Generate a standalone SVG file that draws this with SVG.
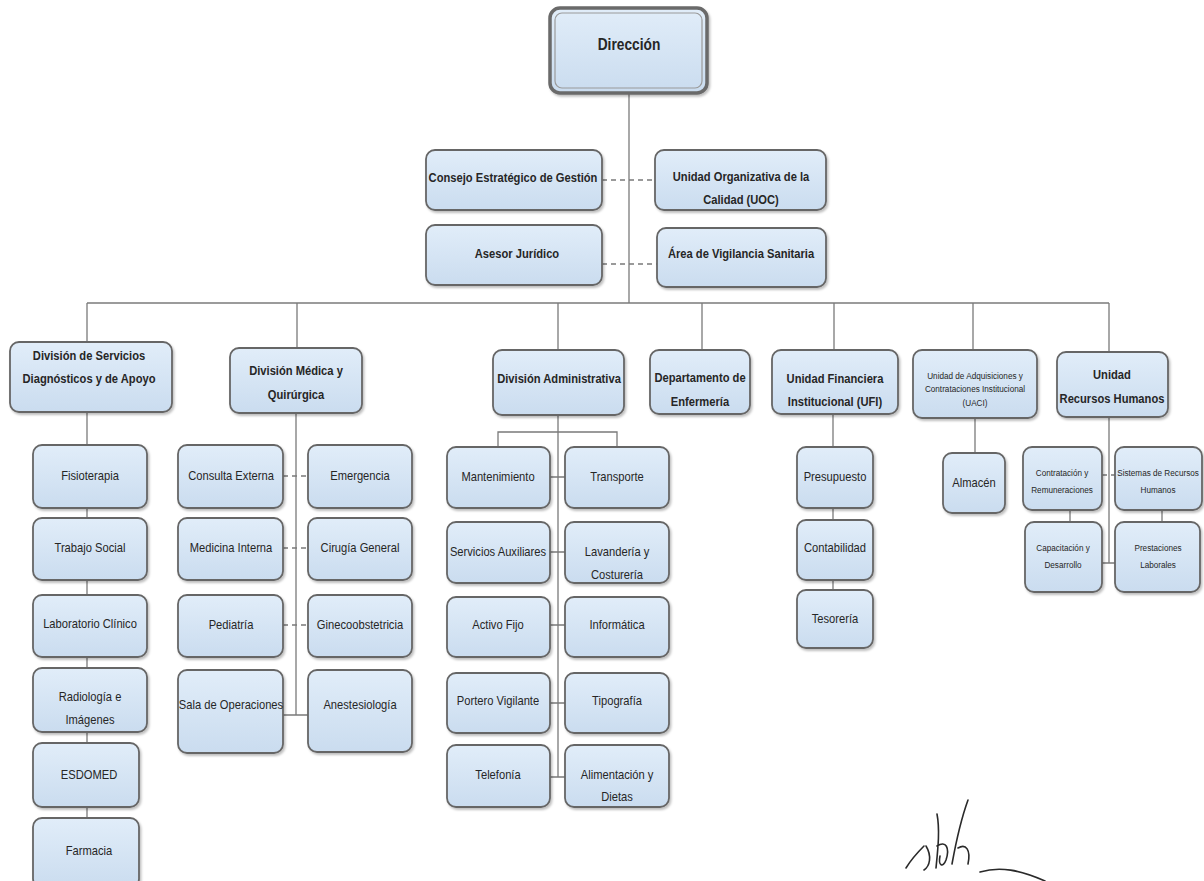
<svg xmlns="http://www.w3.org/2000/svg" width="1204" height="881" viewBox="0 0 1204 881">
<defs>
<linearGradient id="bg" x1="0" y1="0" x2="0" y2="1">
<stop offset="0" stop-color="#e1edf9"/>
<stop offset="1" stop-color="#cadcef"/>
</linearGradient>
<filter id="sh" x="-10%" y="-10%" width="130%" height="140%">
<feDropShadow dx="1.5" dy="2" stdDeviation="1.2" flood-color="#000" flood-opacity="0.25"/>
</filter>
</defs>
<style>
.b{fill:url(#bg);stroke:#666;stroke-width:1.8;filter:url(#sh)}
.t{font-family:"Liberation Sans Narrow","Liberation Sans",sans-serif;font-size:13px;fill:#262626;text-anchor:middle;transform-box:fill-box;transform-origin:center;transform:scaleX(0.86)}
.h{font-weight:bold}
.s{font-size:9.5px}
.xs{font-size:9.5px}
.c{fill:none;stroke:#7a7a7a;stroke-width:1.3}
.d{fill:none;stroke:#7a7a7a;stroke-width:1.3;stroke-dasharray:5 4}
.sig{fill:none;stroke:#2a2a2a;stroke-width:1.6;stroke-linecap:round;stroke-linejoin:round}
</style>
<rect width="1204" height="881" fill="#fff"/>
<g id="connectors">
<path class="c" d="M629,93 V303"/>
<path class="c" d="M87,303 H1109"/>
<path class="c" d="M87,303 V342 M297,303 V348 M558,303 V350 M702,303 V350 M834,303 V350 M973,303 V350 M1109,303 V352"/>
<path class="d" d="M602,180 H655"/>
<path class="d" d="M602,264 H657"/>
<path class="c" d="M87,412 V820"/>
<path class="c" d="M296,413 V715 M283,715 H308"/>
<path class="d" d="M283,476 H308 M283,548 H308 M283,625 H308"/>
<path class="c" d="M558,415 V777 M498,447 V432 H617 V447"/>
<path class="c" d="M550,477 H565 M550,552 H565 M550,625 H565 M550,703 H565 M550,777 H565"/>
<path class="c" d="M833,414 V590"/>
<path class="c" d="M975,418 V453"/>
<path class="c" d="M1109,417 V563 M1102,563 H1115 M1070,510 V522 M1162,510 V522"/>
<path class="d" d="M1102,475 H1115"/>
</g>
<g id="n-direccion">
<rect x="550" y="8" width="157" height="85" rx="10" fill="url(#bg)" stroke="#6a6a6a" stroke-width="3.5" filter="url(#sh)"/>
<rect x="555" y="13" width="147" height="75" rx="7" fill="none" stroke="#9a9a9a" stroke-width="1.2"/>
<text class="t h" x="629" y="50" style="font-size:16px">Dirección</text>
</g>
<g id="n-consejo"><rect class="b" x="426" y="150" width="176" height="60" rx="9"/><text class="t h" x="513" y="182">Consejo Estratégico de Gestión</text></g>
<g id="n-uoc"><rect class="b" x="655" y="150" width="171" height="60" rx="9"/><text class="t h" x="741" y="181">Unidad Organizativa de la</text><text class="t h" x="741" y="204">Calidad (UOC)</text></g>
<g id="n-asesor"><rect class="b" x="426" y="225" width="176" height="60" rx="9"/><text class="t h" x="517" y="258">Asesor Jurídico</text></g>
<g id="n-vigilancia"><rect class="b" x="657" y="228" width="169" height="59" rx="9"/><text class="t h" x="741" y="258">Área de Vigilancia Sanitaria</text></g>

<g id="n-div-servicios"><rect class="b" x="10" y="342" width="162" height="70" rx="9"/><text class="t h" x="89" y="360">División de Servicios</text><text class="t h" x="89" y="383">Diagnósticos y de Apoyo</text></g>
<g id="n-div-medica"><rect class="b" x="230" y="348" width="132" height="65" rx="9"/><text class="t h" x="296" y="375">División Médica y</text><text class="t h" x="296" y="399">Quirúrgica</text></g>
<g id="n-div-admin"><rect class="b" x="493" y="350" width="131" height="65" rx="9"/><text class="t h" x="559" y="383">División Administrativa</text></g>
<g id="n-enfermeria"><rect class="b" x="650" y="350" width="100" height="64" rx="9"/><text class="t h" x="700" y="382">Departamento de</text><text class="t h" x="700" y="406">Enfermería</text></g>
<g id="n-ufi"><rect class="b" x="772" y="350" width="126" height="64" rx="9"/><text class="t h" x="835" y="383">Unidad Financiera</text><text class="t h" x="835" y="406">Institucional (UFI)</text></g>
<g id="n-uaci"><rect class="b" x="913" y="350" width="124" height="68" rx="9"/><text class="t xs" x="975" y="379">Unidad de Adquisiciones y</text><text class="t xs" x="975" y="392">Contrataciones Institucional</text><text class="t xs" x="975" y="406">(UACI)</text></g>
<g id="n-rrhh"><rect class="b" x="1057" y="352" width="111" height="65" rx="9"/><text class="t h" x="1112" y="379">Unidad</text><text class="t h" x="1112" y="403">Recursos Humanos</text></g>

<g id="n-fisioterapia"><rect class="b" x="33" y="445" width="114" height="63" rx="9"/><text class="t" x="90" y="480">Fisioterapia</text></g>
<g id="n-trabajo-social"><rect class="b" x="33" y="518" width="114" height="62" rx="9"/><text class="t" x="90" y="552">Trabajo Social</text></g>
<g id="n-laboratorio"><rect class="b" x="33" y="595" width="114" height="62" rx="9"/><text class="t" x="90" y="628">Laboratorio Clínico</text></g>
<g id="n-radiologia"><rect class="b" x="33" y="668" width="114" height="64" rx="9"/><text class="t" x="90" y="701">Radiología e</text><text class="t" x="90" y="724">Imágenes</text></g>
<g id="n-esdomed"><rect class="b" x="33" y="743" width="106" height="64" rx="9"/><text class="t" x="89" y="779">ESDOMED</text></g>
<g id="n-farmacia"><rect class="b" x="33" y="818" width="106" height="70" rx="9"/><text class="t" x="89" y="855">Farmacia</text></g>

<g id="n-consulta"><rect class="b" x="178" y="445" width="105" height="63" rx="9"/><text class="t" x="231" y="480">Consulta Externa</text></g>
<g id="n-emergencia"><rect class="b" x="308" y="445" width="104" height="63" rx="9"/><text class="t" x="360" y="480">Emergencia</text></g>
<g id="n-medicina"><rect class="b" x="178" y="518" width="105" height="62" rx="9"/><text class="t" x="231" y="552">Medicina Interna</text></g>
<g id="n-cirugia"><rect class="b" x="308" y="518" width="104" height="62" rx="9"/><text class="t" x="360" y="552">Cirugía General</text></g>
<g id="n-pediatria"><rect class="b" x="178" y="595" width="105" height="62" rx="9"/><text class="t" x="231" y="629">Pediatría</text></g>
<g id="n-gineco"><rect class="b" x="308" y="595" width="104" height="62" rx="9"/><text class="t" x="360" y="629">Ginecoobstetricia</text></g>
<g id="n-sala"><rect class="b" x="178" y="670" width="105" height="83" rx="9"/><text class="t" x="231" y="709">Sala de Operaciones</text></g>
<g id="n-anestesiologia"><rect class="b" x="308" y="670" width="104" height="82" rx="9"/><text class="t" x="360" y="709">Anestesiología</text></g>

<g id="n-mantenimiento"><rect class="b" x="447" y="447" width="103" height="61" rx="9"/><text class="t" x="498" y="481">Mantenimiento</text></g>
<g id="n-transporte"><rect class="b" x="565" y="447" width="104" height="61" rx="9"/><text class="t" x="617" y="481">Transporte</text></g>
<g id="n-servicios-aux"><rect class="b" x="447" y="522" width="103" height="61" rx="9"/><text class="t" x="498" y="556">Servicios Auxiliares</text></g>
<g id="n-lavanderia"><rect class="b" x="565" y="522" width="104" height="61" rx="9"/><text class="t" x="617" y="556">Lavandería y</text><text class="t" x="617" y="579">Costurería</text></g>
<g id="n-activo"><rect class="b" x="447" y="597" width="103" height="60" rx="9"/><text class="t" x="498" y="629">Activo Fijo</text></g>
<g id="n-informatica"><rect class="b" x="565" y="597" width="104" height="60" rx="9"/><text class="t" x="617" y="629">Informática</text></g>
<g id="n-portero"><rect class="b" x="447" y="673" width="103" height="60" rx="9"/><text class="t" x="498" y="705">Portero Vigilante</text></g>
<g id="n-tipografia"><rect class="b" x="565" y="673" width="104" height="60" rx="9"/><text class="t" x="617" y="705">Tipografía</text></g>
<g id="n-telefonia"><rect class="b" x="447" y="745" width="103" height="62" rx="9"/><text class="t" x="498" y="779">Telefonía</text></g>
<g id="n-alimentacion"><rect class="b" x="565" y="745" width="104" height="62" rx="9"/><text class="t" x="617" y="779">Alimentación y</text><text class="t" x="617" y="801">Dietas</text></g>

<g id="n-presupuesto"><rect class="b" x="797" y="447" width="76" height="61" rx="9"/><text class="t" x="835" y="481">Presupuesto</text></g>
<g id="n-contabilidad"><rect class="b" x="797" y="520" width="76" height="60" rx="9"/><text class="t" x="835" y="552">Contabilidad</text></g>
<g id="n-tesoreria"><rect class="b" x="797" y="590" width="76" height="58" rx="9"/><text class="t" x="835" y="623">Tesorería</text></g>

<g id="n-almacen"><rect class="b" x="943" y="453" width="62" height="60" rx="9"/><text class="t" x="974" y="487">Almacén</text></g>

<g id="n-contratacion"><rect class="b" x="1023" y="447" width="79" height="63" rx="9"/><text class="t s" x="1062" y="476">Contratación y</text><text class="t s" x="1062" y="493">Remuneraciones</text></g>
<g id="n-sistemas"><rect class="b" x="1115" y="447" width="87" height="63" rx="9"/><text class="t s" x="1158" y="476">Sistemas de Recursos</text><text class="t s" x="1158" y="493">Humanos</text></g>
<g id="n-capacitacion"><rect class="b" x="1025" y="522" width="77" height="70" rx="9"/><text class="t s" x="1063" y="551">Capacitación y</text><text class="t s" x="1063" y="568">Desarrollo</text></g>
<g id="n-prestaciones"><rect class="b" x="1115" y="522" width="85" height="70" rx="9"/><text class="t s" x="1158" y="551">Prestaciones</text><text class="t s" x="1158" y="568">Laborales</text></g>

<g id="signature">
<path class="sig" d="M906,868 C912,858 918,852 924,846 M926,846 C932,856 930,866 924,870"/>
<path class="sig" d="M936,868 C938,848 940,830 937,814 M937,846 C946,840 950,848 946,860 C943,868 938,866 940,856"/>
<path class="sig" d="M952,864 C956,842 960,822 968,800 M958,848 C966,843 971,850 968,864"/>
<path class="sig" d="M980,872 C1000,866 1020,870 1045,881"/>
</g>
</svg>
